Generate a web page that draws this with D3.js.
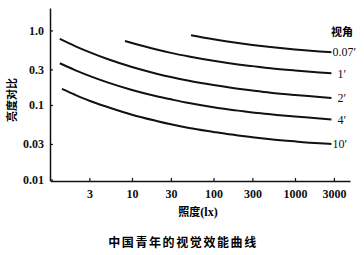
<!DOCTYPE html>
<html><head><meta charset="utf-8">
<script src="https://cdn.jsdelivr.net/npm/d3@7"></script>
<style>
body{margin:0;background:#fff;}
svg{display:block;}
</style>
</head><body>
<svg id="c" width="364" height="255"></svg>
<script>
const seriesNames = ["0.07′","1′","2′","4′","10′"];
const xTicks = [3,10,30,100,300,1000,3000];
const yTicks = [0.01,0.03,0.1,0.3,1.0];
const yTickLabels = ["0.01","0.03","0.1","0.3","1.0"];
const lux007 = [53,100,200,300,500,1000,2000,2800];
const val007 = [0.862,0.761,0.678,0.640,0.600,0.556,0.522,0.509];
const lux1 = [8.2,10,20,30,50,100,200,300,500,1000,2000,2800];
const val1 = [0.723,0.677,0.554,0.500,0.447,0.391,0.350,0.332,0.311,0.290,0.273,0.266];
const lux2 = [1.3,2,3,5,10,20,30,50,100,200,300,500,1000,2000,2800];
const val2 = [0.769,0.617,0.511,0.413,0.323,0.263,0.237,0.211,0.185,0.165,0.156,0.146,0.136,0.128,0.124];
const lux4 = [1.3,2,3,5,10,20,30,50,100,200,300,500,1000,2000,2800];
const val4 = [0.363,0.294,0.246,0.201,0.159,0.131,0.119,0.106,0.093,0.084,0.079,0.075,0.070,0.066,0.064];
const lux10 = [1.38,2,3,5,10,20,30,50,100,200,300,500,1000,2000,2800];
const val10 = [0.164,0.137,0.114,0.094,0.074,0.061,0.055,0.049,0.0435,0.039,0.037,0.0348,0.0325,0.0306,0.0299];

const series = [
  {name:seriesNames[0], x:lux007, y:val007, dx:1},
  {name:seriesNames[1], x:lux1, y:val1, dx:6},
  {name:seriesNames[2], x:lux2, y:val2, dx:6},
  {name:seriesNames[3], x:lux4, y:val4, dx:6},
  {name:seriesNames[4], x:lux10, y:val10, dx:1}
];

const SERIF = "'Liberation Serif','Times New Roman',serif";
const CJK = "'Noto Sans CJK SC',sans-serif";

const svg = d3.select("#c");
const x = d3.scaleLog().domain([1,4730]).range([50.5,350]);
const y = d3.scaleLog().domain([0.00955,2.0]).range([181,8]);

const gx = svg.append("g").attr("transform","translate(0,181)")
  .call(d3.axisBottom(x).tickValues(xTicks).tickFormat(d3.format("d")).tickSizeInner(-3).tickSizeOuter(0).tickPadding(6));
const gy = svg.append("g").attr("transform","translate(50,0)")
  .call(d3.axisLeft(y).tickValues(yTicks).tickFormat((d,i)=>yTickLabels[i]).tickSizeInner(-3).tickSizeOuter(0).tickPadding(6));
[gx,gy].forEach(g=>{
  g.attr("font-family",SERIF).attr("font-size",12);
  g.select(".domain").attr("stroke","#111").attr("stroke-width",1.5);
  g.selectAll(".tick line").attr("stroke","#111").attr("stroke-width",1.2);
  g.selectAll(".tick text").attr("fill","#111").attr("font-weight","bold");
});
gx.selectAll(".tick text").attr("dy","0.9em");

const line = d3.line().x(d=>x(d[0])).y(d=>y(d[1])).curve(d3.curveMonotoneX);
series.forEach(s=>{
  const pts = s.x.map((v,i)=>[v,s.y[i]]);
  svg.append("path").attr("d",line(pts)).attr("fill","none").attr("stroke","#111").attr("stroke-width",2);
  const last = pts[pts.length-1];
  svg.append("text").attr("font-family",SERIF).attr("font-size",12).attr("fill","#111")
    .attr("x",x(last[0])+s.dx).attr("y",y(last[1])).attr("dy","0.35em").text(s.name);
});

svg.append("text").attr("font-family",CJK).attr("font-weight","bold").attr("font-size",11)
  .attr("x",342).attr("y",36).attr("text-anchor","middle").text("视角");

svg.append("text").attr("font-family",CJK).attr("font-weight","bold").attr("font-size",11)
  .attr("transform","translate(16,100) rotate(-90)").attr("text-anchor","middle").text("亮度对比");

const xl = svg.append("text").attr("font-weight","bold").attr("font-size",11)
  .attr("x",198).attr("y",216).attr("text-anchor","middle");
xl.append("tspan").attr("font-family",CJK).text("照度");
xl.append("tspan").attr("font-family",SERIF).attr("font-size",12).text("(lx)");

svg.append("text").attr("font-family",CJK).attr("font-size",12).attr("font-weight","bold")
  .attr("x",183).attr("y",247).attr("text-anchor","middle").attr("letter-spacing","1.6px")
  .text("中国青年的视觉效能曲线");
</script>
</body></html>
